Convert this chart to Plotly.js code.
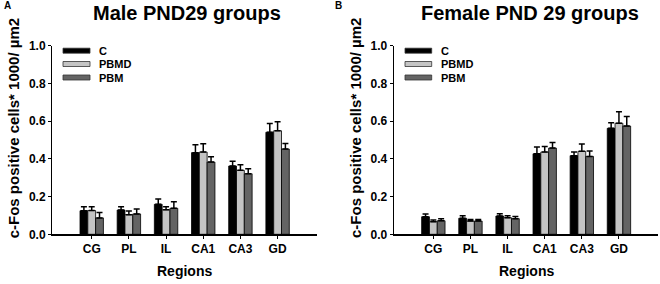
<!DOCTYPE html>
<html>
<head>
<meta charset="utf-8">
<script src="https://cdn.plot.ly/plotly-3.0.1.min.js"></script>
<style>html,body{margin:0;padding:0;background:#fff;}#chart{width:660px;height:284px;}</style>
</head>
<body>
<div id="chart"></div>
<script>
// ---- data ----
const regions = ["CG", "PL", "IL", "CA1", "CA3", "GD"];
const groups = ["C", "PBMD", "PBM"];

// Male PND29
const maleC       = [0.125, 0.129, 0.159, 0.433, 0.362, 0.541];
const maleCErr    = [0.021, 0.017, 0.028, 0.042, 0.025, 0.047];
const malePBMD    = [0.126, 0.104, 0.130, 0.436, 0.339, 0.549];
const malePBMDErr = [0.020, 0.020, 0.016, 0.044, 0.030, 0.048];
const malePBM     = [0.087, 0.108, 0.138, 0.383, 0.321, 0.452];
const malePBMErr  = [0.028, 0.026, 0.035, 0.028, 0.027, 0.030];

// Female PND 29
const femC        = [0.093, 0.085, 0.097, 0.427, 0.417, 0.562];
const femCErr     = [0.014, 0.014, 0.012, 0.036, 0.019, 0.030];
const femPBMD     = [0.067, 0.070, 0.088, 0.436, 0.440, 0.589];
const femPBMDErr  = [0.009, 0.008, 0.011, 0.030, 0.039, 0.061];
const femPBM      = [0.072, 0.070, 0.083, 0.457, 0.413, 0.574];
const femPBMErr   = [0.011, 0.008, 0.011, 0.030, 0.029, 0.050];

const panelTitles = ["Male PND29 groups", "Female PND 29 groups"];
const panelLetters = ["A", "B"];
const yTitle = "c-Fos positive cells* 1000/ µm2";
const xTitle = "Regions";
const yTicks = [0, 0.2, 0.4, 0.6, 0.8, 1.0];
const yTickText = ["0.0", "0.2", "0.4", "0.6", "0.8", "1.0"];

// ---- styling ----
const W = 660, H = 284;
const colors = ["#000000", "#c4c4c4", "#646464"];
const FONT = "Arial, 'Liberation Sans', sans-serif";
const px = v => v / W;
const py = v => 1 - v / H;

const panels = [
  {vals: [maleC, malePBMD, malePBM], errs: [maleCErr, malePBMDErr, malePBMErr], x0: 52.3, x1: 317, xa: "x", ya: "y", tx: 187},
  {vals: [femC, femPBMD, femPBM], errs: [femCErr, femPBMDErr, femPBMErr], x0: 394, x1: 658.3, xa: "x2", ya: "y2", tx: 530}
];
const yTop = 45.7, yBot = 234.3;

const traces = [];
panels.forEach((p, pi) => {
  groups.forEach((g, gi) => {
    traces.push({
      type: "bar",
      name: g,
      x: regions,
      y: p.vals[gi],
      xaxis: p.xa,
      yaxis: p.ya,
      showlegend: false,
      marker: {color: colors[gi], line: {color: "#000", width: 0.8}},
      error_y: {type: "data", symmetric: false, array: p.errs[gi],
                arrayminus: p.errs[gi].map(() => 0),
                color: "#000", thickness: 1.5, width: 3}
    });
  });
});

function xaxisDef(p) {
  return {
    domain: [px(p.x0), px(p.x1)],
    range: [-1.06, 6.06],
    showline: true, linecolor: "#000", linewidth: 1.3,
    ticks: "outside", ticklen: 3, tickcolor: "#000", tickwidth: 1,
    tickfont: {family: FONT, size: 12, color: "#000", weight: "bold"},
    showgrid: false, zeroline: false, fixedrange: true
  };
}
function yaxisDef(p) {
  return {
    domain: [py(yBot), py(yTop)],
    range: [0, 1.0],
    anchor: p.xa,
    showline: true, linecolor: "#000", linewidth: 1.3,
    ticks: "outside", ticklen: 3, tickcolor: "#000", tickwidth: 1,
    tickvals: yTicks, ticktext: yTickText,
    tickfont: {family: FONT, size: 12, color: "#000", weight: "bold"},
    showgrid: false, zeroline: false, fixedrange: true
  };
}

const xa1 = xaxisDef(panels[0]); xa1.anchor = "y";
const xa2 = xaxisDef(panels[1]); xa2.anchor = "y2";
const ya1 = yaxisDef(panels[0]);
const ya2 = yaxisDef(panels[1]);

const annotations = [];
const shapes = [];
const legendX = [[63, 90, 97], [405, 431.7, 439]];
const legendY = [50.7, 64, 77.5];

panels.forEach((p, pi) => {
  const cx = (p.x0 + p.x1) / 2;
  annotations.push({text: panelTitles[pi], xref: "paper", yref: "paper", x: px(p.tx), y: py(12.5),
    xanchor: "center", yanchor: "middle", showarrow: false,
    font: {family: FONT, size: 20, color: "#000", weight: "bold"}});
  annotations.push({text: panelLetters[pi], xref: "paper", yref: "paper", x: px(pi ? 333 : 2), y: py(6),
    xanchor: "left", yanchor: "middle", showarrow: false,
    font: {family: FONT, size: 10, color: "#000", weight: "bold"}});
  annotations.push({text: xTitle, xref: "paper", yref: "paper", x: px(cx), y: py(271),
    xanchor: "center", yanchor: "middle", showarrow: false,
    font: {family: FONT, size: 14, color: "#000", weight: "bold"}});
  annotations.push({text: yTitle, xref: "paper", yref: "paper", x: px(p.x0 - 39), y: py(128),
    xanchor: "center", yanchor: "middle", showarrow: false, textangle: -90,
    font: {family: FONT, size: 15, color: "#000", weight: "bold"}});
  groups.forEach((g, gi) => {
    const L = legendX[pi];
    shapes.push({type: "rect", xref: "paper", yref: "paper",
      x0: px(L[0]), x1: px(L[1]), y0: py(legendY[gi] + 2.5), y1: py(legendY[gi] - 2.5),
      fillcolor: colors[gi], line: {color: "#333", width: 0.8}});
    annotations.push({text: g, xref: "paper", yref: "paper", x: px(L[2]), y: py(legendY[gi]),
      xanchor: "left", yanchor: "middle", showarrow: false,
      font: {family: FONT, size: 11, color: "#000", weight: "bold"}});
  });
});

const layout = {
  width: W, height: H,
  margin: {l: 0, r: 0, t: 0, b: 0},
  paper_bgcolor: "#fff", plot_bgcolor: "#fff",
  barmode: "group", bargap: 0.37, bargroupgap: 0,
  showlegend: false,
  xaxis: xa1, yaxis: ya1, xaxis2: xa2, yaxis2: ya2,
  annotations: annotations, shapes: shapes,
  font: {family: FONT, color: "#000"}
};

Plotly.newPlot("chart", traces, layout, {displayModeBar: false, staticPlot: true});
</script>
</body>
</html>
